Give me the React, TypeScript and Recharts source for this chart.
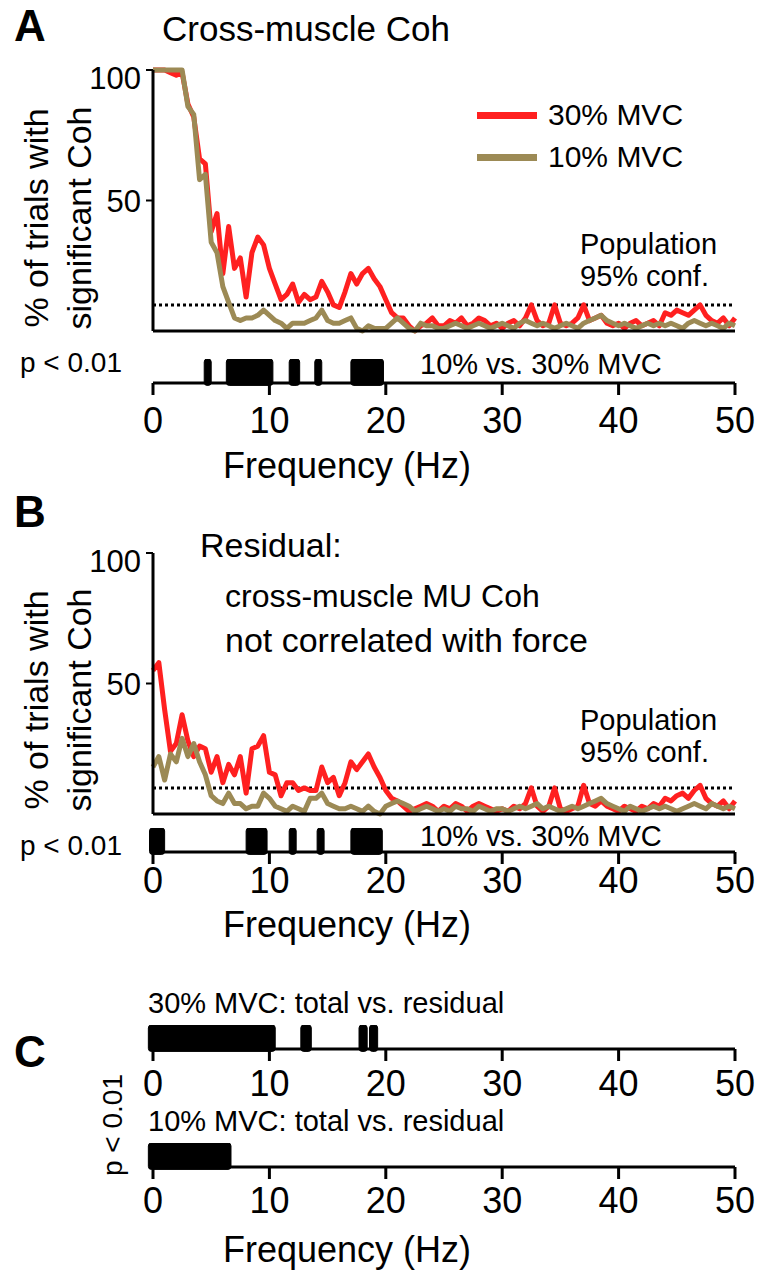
import React from "react";
import { LineChart, Line, XAxis, YAxis, ReferenceLine, ReferenceArea } from "recharts";

const FONT = 'Arial, "Liberation Sans", Helvetica, sans-serif';
const RED = "#ff2020";
const TAN = "#9c8a55";

// frequency grid, 0.5 Hz steps from 0 to 50 Hz
const freqHz = Array.from({ length: 101 }, (_, i) => i / 2);
const xTicks = [0, 10, 20, 30, 40, 50];
const yTicks = [0, 50, 100];
const confLevel = 10;

// panel A: total cross-muscle coherence (% of trials significant)
const totalMvc30 = [
  100, 100, 100, 99, 98, 99, 87, 82, 66, 64, 38, 45, 22, 40, 24, 28, 13, 30, 36, 33,
  24, 18, 12, 14, 18, 11, 14, 12, 13, 19, 15, 10, 9, 15, 22, 18, 22, 24, 20, 17,
  12, 7, 5, 5, 2, 0, 2, 3, 5, 2,
  2, 4, 3, 5, 2, 3, 5, 4, 2, 3, 1, 3, 4, 2, 5, 10, 4, 2, 3, 10,
  3, 2, 3, 5, 10, 4, 5, 6, 3, 2, 3, 1, 3, 4, 2, 3, 4, 2, 7, 6,
  8, 7, 6, 8, 10, 6, 4, 3, 5, 2, 5,
];
const totalMvc10 = [
  100, 100, 100, 100, 100, 100, 86, 83, 58, 60, 34, 30, 17, 11, 5, 4, 5, 5, 6, 8,
  6, 4, 3, 1, 3, 3, 3, 4, 5, 8, 4, 3, 3, 4, 5, 1, 0, 2, 1, 1,
  1, 3, 5, 3, 1, 0, 3, 2, 2, 1,
  1, 2, 3, 2, 1, 2, 3, 2, 1, 2, 3, 2, 1, 3, 4, 3, 2, 3, 2, 1,
  2, 3, 2, 1, 3, 4, 5, 6, 4, 3, 2, 3, 2, 1, 2, 3, 2, 3, 2, 3,
  2, 1, 3, 4, 3, 2, 3, 2, 1, 3, 2,
];

// panel B: residual coherence
const residMvc30 = [
  55, 58, 40, 24, 27, 38, 28, 22, 26, 25, 16, 22, 12, 19, 15, 22, 8, 25, 26, 30,
  16, 15, 7, 12, 12, 9, 10, 9, 9, 18, 12, 14, 7, 12, 20, 17, 20, 23, 18, 14,
  9, 6, 5, 3, 1, 2, 3, 4, 3, 1,
  3, 2, 4, 3, 1, 3, 4, 3, 2, 1, 2, 1, 3, 2, 4, 10, 3, 1, 3, 10,
  2, 1, 2, 3, 11, 4, 3, 5, 3, 2, 1, 3, 2, 1, 3, 2, 4, 3, 6, 5,
  7, 8, 6, 9, 11, 6, 4, 3, 5, 2, 5,
];
const residMvc10 = [
  18, 22, 13, 23, 20, 29, 22, 27, 20, 15, 7, 5, 4, 8, 4, 4, 2, 3, 3, 8,
  6, 3, 2, 1, 3, 2, 1, 6, 6, 8, 4, 3, 2, 2, 3, 2, 1, 3, 1, 0,
  3, 4, 5, 4, 3, 1, 2, 3, 2, 1,
  2, 1, 3, 2, 2, 1, 3, 2, 1, 2, 2, 1, 2, 3, 2, 3, 4, 2, 3, 2,
  1, 2, 3, 2, 3, 4, 5, 6, 4, 3, 2, 1, 3, 2, 1, 2, 3, 2, 3, 2,
  1, 2, 3, 4, 3, 2, 4, 3, 2, 3, 2,
];

// significant frequency ranges (Hz), p < 0.01
const sigTotal = [[4.4, 5.0], [6.3, 10.3], [11.7, 12.6], [13.9, 14.5], [17.0, 19.8]];
const sigResid = [[-0.3, 1.0], [8.0, 9.8], [11.7, 12.3], [14.1, 14.7], [17.0, 19.7]];
const sigMvc30 = [[-0.4, 10.5], [12.7, 13.6], [17.7, 18.4], [18.6, 19.3]];
const sigMvc10 = [[-0.4, 6.7]];

const axisStyle = { stroke: "#000", strokeWidth: 3 };

function Txt({ x, y, size, children, bold, center, rotate }: any) {
  const shift = center ? "translate(-50%,-50%)" : "translate(0,-50%)";
  return (
    <div
      style={{
        position: "absolute",
        left: x,
        top: y,
        transform: rotate ? `${shift} rotate(-90deg)` : shift,
        fontFamily: FONT,
        fontSize: size,
        fontWeight: bold ? "bold" : "normal",
        lineHeight: 1,
        whiteSpace: "nowrap",
        color: "#000",
      }}
    >
      {children}
    </div>
  );
}

function YTitle({ y }: { y: number }) {
  return (
    <div
      style={{
        position: "absolute",
        left: 58,
        top: y,
        transform: "translate(-50%,-50%) rotate(-90deg)",
        fontFamily: FONT,
        fontSize: 34,
        lineHeight: "43px",
        textAlign: "center",
        whiteSpace: "nowrap",
      }}
    >
      % of trials with
      <br />
      significant Coh
    </div>
  );
}

function CurvePanel({ top, red, tan }: { top: number; red: number[]; tan: number[] }) {
  const data = freqHz.map((f, i) => ({ f, red: red[i], tan: tan[i] }));
  return (
    <div style={{ position: "absolute", left: 0, top }}>
      <LineChart width={757} height={280} data={data} margin={{ top: 10, right: 22, bottom: 0, left: 0 }}>
        <XAxis
          dataKey="f"
          type="number"
          domain={[0, 50]}
          ticks={xTicks}
          tick={false}
          tickSize={5}
          height={9}
          axisLine={axisStyle}
          tickLine={{ stroke: "#000", strokeWidth: 2 }}
        />
        <YAxis
          type="number"
          domain={[0, 100]}
          ticks={yTicks}
          width={153}
          tickSize={7}
          tickMargin={5}
          axisLine={axisStyle}
          tickLine={{ stroke: "#000", strokeWidth: 2 }}
          tick={{ fill: "#000", fontSize: 31, fontFamily: FONT }}
        />
        <ReferenceLine y={confLevel} stroke="#000" strokeWidth={3} strokeDasharray="3 3" />
        <Line type="linear" dataKey="red" stroke={RED} strokeWidth={5} dot={false} isAnimationActive={false} strokeLinejoin="round" />
        <Line type="linear" dataKey="tan" stroke={TAN} strokeWidth={5} dot={false} isAnimationActive={false} strokeLinejoin="round" />
      </LineChart>
    </div>
  );
}

function SigBar({ top, spans, labelGap }: { top: number; spans: number[][]; labelGap: number }) {
  const data = xTicks.map((f) => ({ f, base: 0 }));
  return (
    <div style={{ position: "absolute", left: 0, top }}>
      <LineChart width={757} height={84} data={data} margin={{ top: 0, right: 22, bottom: 0, left: 153 }}>
        <XAxis
          dataKey="f"
          type="number"
          domain={[0, 50]}
          allowDataOverflow
          ticks={xTicks}
          height={60}
          tickSize={12}
          tickMargin={0}
          axisLine={axisStyle}
          tickLine={{ stroke: "#000", strokeWidth: 3 }}
          tick={(p: any) => (
            <text
              x={p.x}
              y={p.y - 12 + labelGap}
              dy="0.36em"
              textAnchor="middle"
              fontSize={36}
              fontFamily={FONT}
              fill="#000"
            >
              {p.payload.value}
            </text>
          )}
        />
        <YAxis type="number" domain={[0, 1]} allowDataOverflow hide />
        <Line dataKey="base" stroke="none" dot={false} isAnimationActive={false} />
        {spans.map(([a, b]) => (
          <ReferenceArea
            key={a}
            x1={a}
            x2={b}
            y1={-0.1}
            y2={1}
            fill="#000"
            fillOpacity={1}
            stroke="#000"
            strokeWidth={1}
            radius={3}
            ifOverflow="visible"
          />
        ))}
      </LineChart>
    </div>
  );
}

function Legend() {
  const row = (color: string, label: string, y: number) => (
    <>
      <div style={{ position: "absolute", left: 477, top: y - 3.5, width: 60, height: 7, background: color }} />
      <Txt x={548} y={y} size={30}>{label}</Txt>
    </>
  );
  return (
    <>
      {row(RED, "30% MVC", 115)}
      {row(TAN, "10% MVC", 157)}
    </>
  );
}

export default function App() {
  return (
    <div style={{ position: "absolute", left: 0, top: 0, width: 757, height: 1280, background: "#fff" }}>
      {/* Panel A */}
      <CurvePanel top={60} red={totalMvc30} tan={totalMvc10} />
      <SigBar top={359} spans={sigTotal} labelGap={37} />
      <Txt x={14} y={26} size={44} bold>A</Txt>
      <Txt x={162} y={28} size={35}>Cross-muscle Coh</Txt>
      <Legend />
      <Txt x={580} y={244} size={29}>Population</Txt>
      <Txt x={580} y={276} size={29}>95% conf.</Txt>
      <YTitle y={218} />
      <Txt x={20} y={363} size={28}>p &lt; 0.01</Txt>
      <Txt x={420} y={364} size={29}>10% vs. 30% MVC</Txt>
      <Txt x={347} y={466} size={36} center>Frequency (Hz)</Txt>

      {/* Panel B */}
      <CurvePanel top={543} red={residMvc30} tan={residMvc10} />
      <SigBar top={828} spans={sigResid} labelGap={28} />
      <Txt x={14} y={512} size={44} bold>B</Txt>
      <Txt x={200} y={545} size={34}>Residual:</Txt>
      <Txt x={225} y={596} size={32}>cross-muscle MU Coh</Txt>
      <Txt x={225} y={640} size={34}>not correlated with force</Txt>
      <Txt x={580} y={720} size={29}>Population</Txt>
      <Txt x={580} y={752} size={29}>95% conf.</Txt>
      <YTitle y={700} />
      <Txt x={20} y={846} size={28}>p &lt; 0.01</Txt>
      <Txt x={420} y={836} size={29}>10% vs. 30% MVC</Txt>
      <Txt x={347} y={925} size={36} center>Frequency (Hz)</Txt>

      {/* Panel C */}
      <Txt x={14} y={1052} size={44} bold>C</Txt>
      <Txt x={148} y={1003} size={29}>30% MVC: total vs. residual</Txt>
      <SigBar top={1025} spans={sigMvc30} labelGap={34} />
      <Txt x={148} y={1121} size={29}>10% MVC: total vs. residual</Txt>
      <SigBar top={1143} spans={sigMvc10} labelGap={33} />
      <Txt x={113} y={1125} size={28} center rotate>p &lt; 0.01</Txt>
      <Txt x={347} y={1250} size={36} center>Frequency (Hz)</Txt>
    </div>
  );
}
